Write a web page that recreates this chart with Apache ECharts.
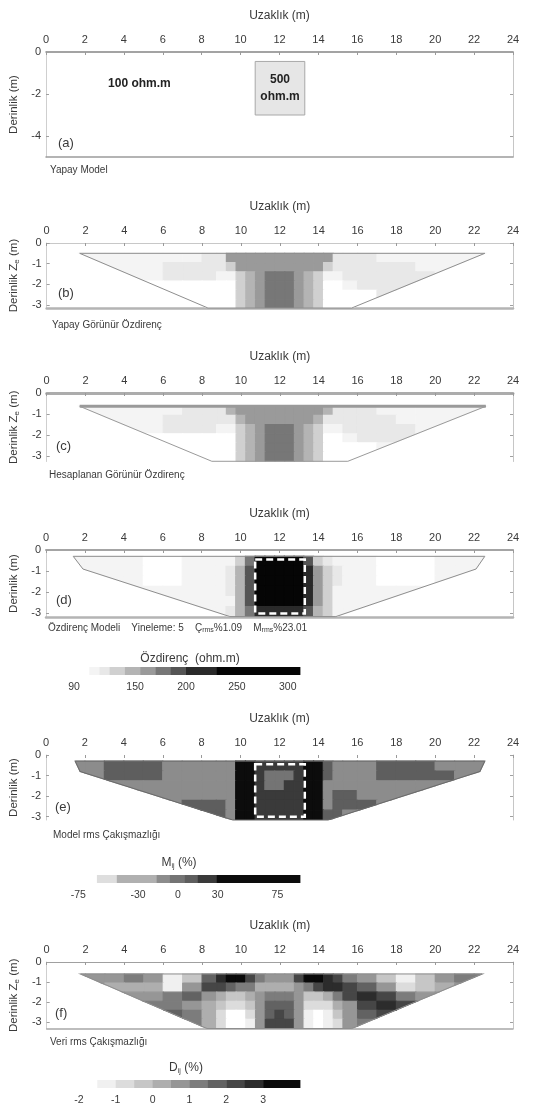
<!DOCTYPE html>
<html>
<head>
<meta charset="utf-8">
<title>Özdirenç kesitleri</title>
<script src="https://cdn.jsdelivr.net/npm/echarts@6/dist/echarts.min.js"></script>
<style>
  html, body { margin: 0; padding: 0; background: #ffffff; }
  #chart { width: 559px; height: 1113px; }
</style>
</head>
<body>
<div id="chart"></div>
<script>
// ---- axis ticks ----
const distanceTicks = [0, 2, 4, 6, 8, 10, 12, 14, 16, 18, 20, 22, 24];
const depthTicksModel = [0, -2, -4];
const depthTicks = [0, -1, -2, -3];

// ---- cell grid of the sections (distance edges, m) ----
const colEdges = [1, 2, 3, 4, 5, 6, 7, 8, 8.75, 9.25, 9.75, 10.25, 10.75, 11.25, 11.75,
  12.25, 12.75, 13.25, 13.75, 14.25, 14.75, 15.25, 16, 17, 18, 19, 20, 21, 22, 23];

// ---- synthetic block (a) ----
const blockX = [10.75, 13.3];
const blockDepth = [-0.45, -3.0];
const blockRho = 500;
const hostRho = 100;

// ---- (b) synthetic apparent resistivity, ohm.m ----
const depthRowsB = [-0.5, -0.95, -1.4, -1.85, -2.3, -2.75, -3.15];
const outlineB = [[1.7, -0.5], [22.55, -0.5], [15.7, -3.15], [8.3, -3.15]];
const rhoB = [
  [110,110,110,110,110,110,110,120,120,160,160,160,160,160,160,160,160,160,160,160,120,120,115,110,110,110,110,110,110],
  [110,110,110,110,110,115,120,120,120,130,160,160,160,160,160,160,160,160,160,130,120,120,120,120,115,110,110,110,110],
  [110,110,110,110,110,120,120,120,105,105,135,150,160,175,175,175,160,150,135,105,105,120,120,120,120,115,110,110,110],
  [100,100,100,100,100,100,100,100,100,100,130,150,160,175,175,175,160,150,130,100,100,105,120,120,120,115,110,110,110],
  [100,100,100,100,100,100,100,100,100,100,130,145,160,175,175,175,160,145,130,100,100,100,100,120,110,110,110,110,110],
  [100,100,100,100,100,100,100,100,100,100,125,145,160,175,175,175,160,145,125,100,100,100,100,100,100,100,100,100,100]
];

// ---- (c) calculated apparent resistivity, ohm.m ----
const depthRowsC = [-0.63, -1.065, -1.5, -1.935, -2.37, -2.805, -3.24];
const outlineC = [[1.7, -0.63], [22.6, -0.63], [15.5, -3.24], [8.5, -3.24]];
const rhoC = [
  [110,110,110,110,110,110,115,120,120,140,160,160,160,160,160,160,160,160,160,150,120,120,115,110,110,110,110,110,110],
  [110,110,110,110,110,115,120,120,120,120,150,160,160,160,160,160,160,160,150,120,120,120,120,115,110,110,110,110,110],
  [110,110,110,110,110,120,120,120,105,105,130,150,155,175,175,175,155,150,130,105,105,120,120,120,115,110,110,110,110],
  [100,100,100,100,100,100,100,100,100,100,130,150,155,175,175,175,155,150,130,100,100,105,120,120,120,110,110,110,110],
  [100,100,100,100,100,100,100,100,100,100,130,145,155,175,175,175,155,145,130,100,100,100,100,110,110,110,110,110,110],
  [100,100,100,100,100,100,100,100,100,100,125,145,155,175,175,175,155,145,125,100,100,100,100,100,100,100,100,100,100]
];

// ---- (d) inverted resistivity model, ohm.m ----
const depthRowsD = [-0.3, -0.775, -1.25, -1.725, -2.2, -2.675, -3.15];
const outlineD = [[1.4, -0.3], [22.55, -0.3], [22.1, -0.9], [14.9, -3.15], [9.45, -3.15], [1.9, -0.9]];
const rhoD = [
  [114,114,114,112,102,102,110,114,114,114,125,175,260,260,260,260,260,190,135,115,112,114,110,102,102,102,112,114,114],
  [112,112,112,112,102,102,108,114,114,116,150,195,260,260,260,260,260,210,160,125,116,114,108,102,102,102,110,112,112],
  [110,110,110,108,102,104,106,110,112,116,150,195,260,260,260,260,260,210,160,125,116,112,106,102,102,104,108,110,110],
  [110,110,110,110,110,108,106,108,112,116,150,195,260,260,260,260,260,210,160,125,114,110,106,106,108,110,110,110,110],
  [110,110,110,110,110,110,110,108,110,114,150,190,255,255,255,255,255,205,160,125,112,108,110,110,110,110,110,110,110],
  [110,110,110,110,110,110,110,110,110,116,145,175,215,215,215,215,215,185,150,125,112,110,110,110,110,110,110,110,110]
];

// ---- (e) model rms misfit M_ij, % ----
const depthRowsE = [-0.3, -0.777, -1.253, -1.73, -2.207, -2.683, -3.16];
const outlineE = [[1.5, -0.3], [22.55, -0.3], [22.3, -0.8], [14.5, -3.16], [9.6, -3.16], [1.75, -0.8]];
const misfitM = [
  [-10,-10,8,8,8,-10,-10,-10,-10,-10,45,45,22,22,22,22,22,45,45,8,-10,-10,-10,8,8,8,-10,-10,-10],
  [-10,-10,8,8,8,-10,-10,-10,-10,-10,45,45,22,-3,-3,-3,22,45,45,8,-10,-10,-10,8,8,8,8,-10,-10],
  [-10,-10,-10,-10,-10,-10,-10,-10,-10,-10,45,45,22,-3,-3,22,22,45,45,-10,-10,-10,-10,-10,-10,-10,-10,-10,-10],
  [-10,-10,-10,-10,-10,-10,-10,-10,-10,-10,45,45,22,22,22,22,22,45,45,-10,8,8,-10,-10,-10,-10,-10,-10,-10],
  [-10,-10,-10,-10,-10,-10,8,8,8,-10,45,45,22,22,22,22,22,45,45,-10,8,8,8,-10,-10,-10,-10,-10,-10],
  [-10,-10,-10,-10,-10,-10,-10,8,8,-10,45,45,15,15,15,15,15,45,45,8,8,-10,-10,-10,-10,-10,-10,-10,-10]
];

// ---- (f) data rms misfit D_ij, % ----
const depthRowsF = [-0.6, -1.055, -1.51, -1.965, -2.42, -2.875, -3.33];
const outlineF = [[1.75, -0.6], [22.4, -0.6], [15.7, -3.33], [8.25, -3.33]];
const misfitD = [
  [0.8,0.8,0.9,1.4,0.6,-1.3,-0.3,1.6,2.6,3.2,3.3,2.4,1.0,0.6,0.5,0.8,2.0,3.3,3.4,2.6,2.0,1.4,0.8,-0.3,-1.2,-0.2,0.8,1.0,1.0],
  [0.6,0.6,0.4,0.3,0.0,-1.4,0.6,2.2,2.0,1.5,1.2,1.0,0.4,0.3,0.3,0.4,0.8,1.4,2.4,2.8,2.8,2.3,1.6,0.6,-0.6,-0.3,0.4,0.6,0.6],
  [0.9,0.9,0.9,0.9,0.9,1.0,1.6,0.9,0.3,-0.2,-0.3,0.0,0.5,1.0,1.1,1.0,0.5,-0.2,-0.2,0.4,1.4,2.4,2.6,2.2,1.4,0.6,0.5,0.5,0.5],
  [1.2,1.2,1.2,1.2,1.2,1.3,0.8,0.3,-0.5,-1.0,-1.0,-0.4,0.8,1.6,1.8,1.6,0.8,-0.6,-1.0,-0.8,0.0,0.8,2.0,2.6,2.2,1.5,1.5,1.5,1.5],
  [1.6,1.6,1.6,1.6,1.6,1.6,1.2,0.4,-0.6,-1.6,-1.6,-1.0,0.6,1.8,2.0,1.8,0.6,-1.4,-1.6,-1.2,-0.2,0.6,1.6,2.0,2.0,2.0,2.0,2.0,2.0],
  [1.4,1.4,1.4,1.4,1.4,1.4,1.4,0.2,-0.8,-1.6,-1.7,-1.2,0.6,2.0,2.2,2.0,0.6,-1.5,-1.7,-1.4,-0.6,0.6,1.0,1.0,1.0,1.0,1.0,1.0,1.0]
];

// ---- grey scales (class limits and shades) ----
const rhoBreaks = [105, 115, 125, 140, 155, 170, 185, 200, 230];
const rhoShades = ['#ffffff','#f4f4f4','#e8e8e8','#d0d0d0','#b4b4b4','#9a9a9a','#777777','#555555','#2a2a2a','#050505'];
const rhoRange = [89, 312];
const rhoLabels = [90, 150, 200, 250, 300];

const mBreaks = [-61, -46, -16, -6, 5, 15, 29];
const mShades = ['#ffffff','#dedede','#b0b0b0','#8c8c8c','#747474','#5e5e5e','#3a3a3a','#0c0c0c'];
const mRange = [-79, 92];
const mLabels = [-75, -30, 0, 30, 75];

const dBreaks = [-1.5, -1, -0.5, 0, 0.5, 1, 1.5, 2, 2.5, 3];
const dShades = ['#ffffff','#f0f0f0','#dcdcdc','#c6c6c6','#aeaeae','#969696','#7c7c7c','#626262','#464646','#2c2c2c','#0a0a0a'];
const dRange = [-2.05, 4.0];
const dLabels = [-2, -1, 0, 1, 2, 3];

// ---------------------------------------------------------------------------
const FONT = "'Liberation Sans', Arial, sans-serif";
const INK = '#3a3a3a';

function shadeFor(v, breaks, shades) {
  let i = 0;
  while (i < breaks.length && v >= breaks[i]) i++;
  return shades[i];
}

// Sutherland–Hodgman clip of a cell against the convex section outline
function clipPolygon(subject, clip) {
  let area = 0;
  for (let i = 0; i < clip.length; i++) {
    const a = clip[i], b = clip[(i + 1) % clip.length];
    area += a[0] * b[1] - b[0] * a[1];
  }
  const sign = area > 0 ? 1 : -1;
  let out = subject;
  for (let i = 0; i < clip.length && out.length; i++) {
    const a = clip[i], b = clip[(i + 1) % clip.length];
    const side = p => sign * ((b[0] - a[0]) * (p[1] - a[1]) - (b[1] - a[1]) * (p[0] - a[0]));
    const input = out;
    out = [];
    for (let j = 0; j < input.length; j++) {
      const cur = input[j], prev = input[(j + input.length - 1) % input.length];
      const sc = side(cur), sp = side(prev);
      const cross = () => { const t = sp / (sp - sc); return [prev[0] + t * (cur[0] - prev[0]), prev[1] + t * (cur[1] - prev[1])]; };
      if (sc >= 0) { if (sp < 0) out.push(cross()); out.push(cur); }
      else if (sp >= 0) out.push(cross());
    }
  }
  return out;
}

function cellSeries(p, rows, values, outline, breaks, shades) {
  const data = [];
  values.forEach((row, r) => row.forEach((v, c) => data.push([c, r, v])));
  return {
    type: 'custom', xAxisIndex: 2 * p, yAxisIndex: 2 * p, silent: true, z: 2, clip: true,
    data,
    renderItem(params, api) {
      const c = api.value(0), r = api.value(1), v = api.value(2);
      const cell = [[colEdges[c], rows[r]], [colEdges[c + 1], rows[r]], [colEdges[c + 1], rows[r + 1]], [colEdges[c], rows[r + 1]]];
      const poly = clipPolygon(cell, outline);
      if (poly.length < 3) return null;
      const col = shadeFor(v, breaks, shades);
      return { type: 'polygon', shape: { points: poly.map(q => api.coord(q)) },
        style: { fill: col, stroke: col, lineWidth: 1.2 } };
    }
  };
}

function outlineSeries(p, outline, color, width, topWidth) {
  return {
    type: 'custom', xAxisIndex: 2 * p, yAxisIndex: 2 * p, silent: true, z: 4, data: [[0, 0]],
    renderItem(params, api) {
      const pts = outline.map(q => api.coord(q));
      const children = [{ type: 'polygon', shape: { points: pts }, style: { fill: 'none', stroke: color, lineWidth: width } }];
      if (topWidth) children.push({ type: 'line', shape: { x1: pts[0][0], y1: pts[0][1], x2: pts[1][0], y2: pts[1][1] },
        style: { stroke: color, lineWidth: topWidth } });
      return { type: 'group', children };
    }
  };
}

function blockSeries(p, style) {
  return {
    type: 'custom', xAxisIndex: 2 * p, yAxisIndex: 2 * p, silent: true, z: 5, data: [[0, 0]],
    renderItem(params, api) {
      const a = api.coord([blockX[0], blockDepth[0]]);
      const b = api.coord([blockX[1], blockDepth[1]]);
      return { type: 'rect', shape: { x: a[0], y: a[1], width: b[0] - a[0], height: b[1] - a[1] }, style };
    }
  };
}

function dataText(p, x, d, text, size) {
  return {
    type: 'custom', xAxisIndex: 2 * p, yAxisIndex: 2 * p, silent: true, z: 6, data: [[x, d]],
    renderItem(params, api) {
      const c = api.coord([api.value(0), api.value(1)]);
      return { type: 'text', x: c[0], y: c[1],
        style: { text, fill: '#222', font: 'bold ' + size + 'px ' + FONT, align: 'center', verticalAlign: 'middle', lineHeight: size + 5 } };
    }
  };
}

// ---- panel layout ----
const panels = [
  { top: 52,  height: 105,  min: -5,    ticks: depthTicksModel, zSub: false, topLine: { color: '#858585', width: 1.5 }, bottomLine: { color: '#9c9c9c', width: 1.5 } },
  { top: 243, height: 65,   min: -3.15, ticks: depthTicks, zSub: true,  topLine: { color: '#c8c8c8', width: 1 },   bottomLine: { color: '#b4b4b4', width: 2.5 } },
  { top: 393, height: 68.5, min: -3.25, ticks: depthTicks, zSub: true,  topLine: { color: '#acacac', width: 3 },   bottomLine: null },
  { top: 550, height: 67,   min: -3.17, ticks: depthTicks, zSub: false, topLine: { color: '#a4a4a4', width: 2 },   bottomLine: { color: '#b4b4b4', width: 2.5 } },
  { top: 755, height: 65,   min: -3.16, ticks: depthTicks, zSub: false, topLine: null,                             bottomLine: null },
  { top: 962, height: 66.5, min: -3.33, ticks: depthTicks, zSub: true,  topLine: { color: '#a0a0a0', width: 1.2 }, bottomLine: { color: '#a8a8a8', width: 1.5 } }
];

const grids = [], xAxes = [], yAxes = [];
const nameRich = { n: { fontSize: 11.5, fontFamily: FONT, color: INK, lineHeight: 14 },
                   s: { fontSize: 8, fontFamily: FONT, color: INK, lineHeight: 8, verticalAlign: 'bottom' } };
panels.forEach((pn, p) => {
  grids.push({ left: 46, top: pn.top, width: 467, height: pn.height });
  xAxes.push({
    gridIndex: p, type: 'value', position: 'top', min: 0, max: 24,
    name: 'Uzaklık (m)', nameLocation: 'middle', nameGap: 30,
    nameTextStyle: { fontSize: 12, color: INK, fontFamily: FONT },
    axisLine: { show: !!pn.topLine, onZero: false, lineStyle: pn.topLine || {} },
    axisTick: { show: true, inside: true, length: 3, customValues: distanceTicks, lineStyle: { color: '#9a9a9a' } },
    axisLabel: { customValues: distanceTicks, fontSize: 11, color: INK, margin: 7, fontFamily: FONT },
    splitLine: { show: false }
  });
  xAxes.push({
    gridIndex: p, type: 'value', position: 'bottom', min: 0, max: 24,
    axisLine: { show: !!pn.bottomLine, onZero: false, lineStyle: pn.bottomLine || {} },
    axisTick: { show: false }, axisLabel: { show: false }, splitLine: { show: false }
  });
  yAxes.push({
    gridIndex: p, type: 'value', position: 'left', min: pn.min, max: 0,
    name: pn.zSub ? '{n|Derinlik Z}{s|e}{n| (m)}' : '{n|Derinlik (m)}',
    nameLocation: 'middle', nameGap: 24, nameRotate: 90,
    nameTextStyle: { rich: nameRich },
    axisLine: { show: true, onZero: false, lineStyle: { color: '#cfcfcf', width: 1 } },
    axisTick: { show: true, inside: true, length: 3, customValues: pn.ticks, lineStyle: { color: '#a0a0a0' } },
    axisLabel: { customValues: pn.ticks, fontSize: 11, color: INK, margin: 5, fontFamily: FONT },
    splitLine: { show: false }
  });
  yAxes.push({
    gridIndex: p, type: 'value', position: 'right', min: pn.min, max: 0,
    axisLine: { show: true, onZero: false, lineStyle: { color: '#c6c6c6', width: 1 } },
    axisTick: { show: true, inside: true, length: 3, customValues: pn.ticks, lineStyle: { color: '#a0a0a0' } },
    axisLabel: { show: false }, splitLine: { show: false }
  });
});

// ---- colour bars ----
const bars = [
  { left: 73, top: 667, width: 227, range: rhoRange, breaks: rhoBreaks, shades: rhoShades, labels: rhoLabels },
  { left: 73, top: 875, width: 227, range: mRange, breaks: mBreaks, shades: mShades, labels: mLabels },
  { left: 77, top: 1080, width: 223, range: dRange, breaks: dBreaks, shades: dShades, labels: dLabels }
];
const barSeries = [];
bars.forEach((bar, j) => {
  const g = panels.length + j;
  grids.push({ left: bar.left, top: bar.top, width: bar.width, height: 8 });
  xAxes.push({
    gridIndex: g, type: 'value', position: 'bottom', min: bar.range[0], max: bar.range[1],
    axisLine: { show: false }, axisTick: { show: false }, splitLine: { show: false },
    axisLabel: { customValues: bar.labels, fontSize: 10.5, color: INK, margin: 7, fontFamily: FONT }
  });
  yAxes.push({ gridIndex: g, type: 'value', min: 0, max: 1, show: false });
  barSeries.push({
    type: 'custom', xAxisIndex: 12 + j, yAxisIndex: 12 + j, silent: true,
    data: bar.shades.map((s, i) => [i, 0]),
    renderItem(params, api) {
      const i = api.value(0);
      const lo = Math.max(bar.range[0], i === 0 ? bar.range[0] : bar.breaks[i - 1]);
      const hi = Math.min(bar.range[1], i === bar.breaks.length ? bar.range[1] : bar.breaks[i]);
      if (hi <= lo) return null;
      const a = api.coord([lo, 1]), b = api.coord([hi, 0]);
      return { type: 'rect', shape: { x: a[0], y: a[1], width: b[0] - a[0] + 0.4, height: b[1] - a[1] },
        style: { fill: bar.shades[i] } };
    }
  });
});

// ---- texts laid out on the page ----
function txt(text, x, y, size, extra) {
  return Object.assign({ type: 'text', x, y, silent: true,
    style: { text, fill: INK, font: size + 'px ' + FONT, textAlign: 'left', textVerticalAlign: 'middle' } }, extra || {});
}
function richTxt(text, x, y, align) {
  return { type: 'text', x, y, silent: true,
    style: { text, textAlign: align, textVerticalAlign: 'middle',
      rich: { n: { fontSize: 12, fontFamily: FONT, fill: INK, lineHeight: 14 },
              c: { fontSize: 10, fontFamily: FONT, fill: INK, lineHeight: 12 },
              s: { fontSize: 7, fontFamily: FONT, fill: INK, lineHeight: 7, verticalAlign: 'bottom' } } } };
}
const graphics = [
  txt('(a)', 58, 143, 13), txt('(b)', 58, 293, 13), txt('(c)', 56, 446, 13),
  txt('(d)', 56, 600, 13), txt('(e)', 55, 807, 13), txt('(f)', 55, 1013, 13),
  txt('Yapay Model', 50, 170, 10),
  txt('Yapay Görünür Özdirenç', 52, 325, 10),
  txt('Hesaplanan Görünür Özdirenç', 49, 475, 10),
  richTxt('{c|Özdirenç Modeli    Yineleme: 5    Ç}{s|rms}{c|%1.09    M}{s|rms}{c|%23.01}', 48, 628, 'left'),
  txt('Model rms Çakışmazlığı', 53, 835, 10),
  txt('Veri rms Çakışmazlığı', 50, 1042, 10),
  richTxt('{n|Özdirenç  (ohm.m)}', 190, 659, 'center'),
  richTxt('{n|M}{s|ij}{n| (%)}', 179, 863, 'center'),
  richTxt('{n|D}{s|ij}{n| (%)}', 186, 1068, 'center')
];

const series = [
  // (a) synthetic model
  blockSeries(0, { fill: '#e6e6e6', stroke: '#a8a8a8', lineWidth: 1 }),
  dataText(0, 4.8, -1.5, hostRho + ' ohm.m', 12),
  dataText(0, (blockX[0] + blockX[1]) / 2, (blockDepth[0] + blockDepth[1]) / 2, blockRho + '\nohm.m', 12),
  // (b)
  cellSeries(1, depthRowsB, rhoB, outlineB, rhoBreaks, rhoShades),
  outlineSeries(1, outlineB, '#8e8e8e', 1, 0),
  // (c)
  cellSeries(2, depthRowsC, rhoC, outlineC, rhoBreaks, rhoShades),
  outlineSeries(2, outlineC, '#9a9a9a', 1, 3),
  // (d)
  cellSeries(3, depthRowsD, rhoD, outlineD, rhoBreaks, rhoShades),
  outlineSeries(3, outlineD, '#8e8e8e', 1, 0),
  blockSeries(3, { fill: 'none', stroke: '#ffffff', lineWidth: 2.5, lineDash: [7, 4] }),
  // (e)
  cellSeries(4, depthRowsE, misfitM, outlineE, mBreaks, mShades),
  outlineSeries(4, outlineE, '#6a6a6a', 1, 0),
  blockSeries(4, { fill: 'none', stroke: '#ffffff', lineWidth: 2.5, lineDash: [7, 4] }),
  // (f)
  cellSeries(5, depthRowsF, misfitD, outlineF, dBreaks, dShades),
  outlineSeries(5, outlineF, '#8e8e8e', 1, 0)
].concat(barSeries);

const chart = echarts.init(document.getElementById('chart'), null, { renderer: 'canvas' });
chart.setOption({
  animation: false,
  backgroundColor: '#ffffff',
  textStyle: { fontFamily: FONT },
  grid: grids,
  xAxis: xAxes,
  yAxis: yAxes,
  series,
  graphic: { elements: graphics }
});
</script>
</body>
</html>
